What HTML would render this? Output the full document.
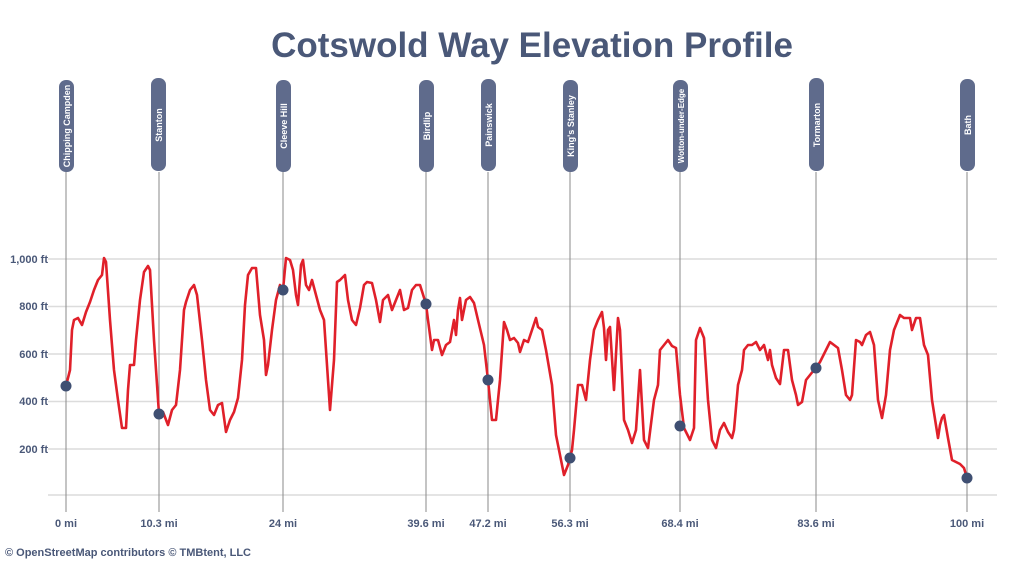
<!DOCTYPE html>
<html><head><meta charset="utf-8"><style>
html,body{margin:0;padding:0;background:#fff;}
svg{display:block;font-family:"Liberation Sans",Arial,sans-serif;}
</style></head><body>
<svg width="1024" height="565" viewBox="0 0 1024 565" xmlns="http://www.w3.org/2000/svg">
<text x="532" y="57" text-anchor="middle" font-size="35" font-weight="bold" fill="#4a5878">Cotswold Way Elevation Profile</text>
<g stroke="#dcdcdc" stroke-width="1.5">
<line x1="48" y1="259" x2="997" y2="259"/>
<line x1="48" y1="306.5" x2="997" y2="306.5"/>
<line x1="48" y1="354" x2="997" y2="354"/>
<line x1="48" y1="401.5" x2="997" y2="401.5"/>
<line x1="48" y1="449" x2="997" y2="449"/>
<line x1="48" y1="495" x2="997" y2="495"/>
</g>
<g font-size="11" font-weight="bold" fill="#4a5878" text-anchor="end">
<text x="48" y="263">1,000 ft</text>
<text x="48" y="310">800 ft</text>
<text x="48" y="358">600 ft</text>
<text x="48" y="405">400 ft</text>
<text x="48" y="453">200 ft</text>
</g>
<g stroke="#8a8a8a" stroke-width="1">
<line x1="66" y1="172" x2="66" y2="512"/>
<line x1="159" y1="172" x2="159" y2="512"/>
<line x1="283" y1="172" x2="283" y2="512"/>
<line x1="426" y1="172" x2="426" y2="512"/>
<line x1="488" y1="172" x2="488" y2="512"/>
<line x1="570" y1="172" x2="570" y2="512"/>
<line x1="680" y1="172" x2="680" y2="512"/>
<line x1="816" y1="172" x2="816" y2="512"/>
<line x1="967" y1="172" x2="967" y2="512"/>
</g>
<g fill="#5f6b8c">
<rect x="59" y="80" width="15" height="92" rx="7"/>
<rect x="151" y="78" width="15" height="93" rx="7"/>
<rect x="276" y="80" width="15" height="92" rx="7"/>
<rect x="419" y="80" width="15" height="92" rx="7"/>
<rect x="481" y="79" width="15" height="92" rx="7"/>
<rect x="563" y="80" width="15" height="92" rx="7"/>
<rect x="673" y="80" width="15" height="92" rx="7"/>
<rect x="809" y="78" width="15" height="93" rx="7"/>
<rect x="960" y="79" width="15" height="92" rx="7"/>
</g>
<g font-size="9" font-weight="bold" fill="#fff" text-anchor="middle">
<text transform="translate(70,126) rotate(-90)">Chipping Campden</text>
<text transform="translate(162,125) rotate(-90)">Stanton</text>
<text transform="translate(287,126) rotate(-90)">Cleeve Hill</text>
<text transform="translate(430,126) rotate(-90)">Birdlip</text>
<text transform="translate(492,125) rotate(-90)">Painswick</text>
<text transform="translate(574,126) rotate(-90)">King's Stanley</text>
<text transform="translate(684,126) rotate(-90)" font-size="8">Wotton-under-Edge</text>
<text transform="translate(820,125) rotate(-90)">Tormarton</text>
<text transform="translate(971,125) rotate(-90)">Bath</text>
</g>
<polyline fill="none" stroke="#e0202a" stroke-width="2.6" stroke-linejoin="round" points="66,386 70,370 72,330 74,320 78,318 82,325 86,312 90,302 94,290 98,280 102,275 104,258 106,262 110,320 114,370 118,400 122,428 126,428 128,390 130,365 134,365 136,340 140,300 144,272 148,266 150,270 154,340 159,414 163,412 168,425 172,410 176,405 180,370 184,310 186,302 190,290 194,285 197,295 202,340 206,380 210,410 214,415 218,405 222,403 226,432 230,420 234,412 238,398 242,360 245,305 248,275 252,268 256,268 260,315 264,340 266,375 268,365 272,330 276,300 280,285 283,290 286,258 290,260 293,270 296,295 298,305 301,265 303,260 306,285 309,290 312,280 316,295 320,310 324,320 330,410 334,360 337,282 340,280 345,275 348,300 352,320 356,325 360,308 364,285 367,282 372,283 376,300 380,322 383,300 388,295 392,310 396,300 400,290 404,310 408,308 412,290 416,285 420,285 426,304 428,320 432,350 434,340 438,340 442,355 446,345 450,342 454,320 456,335 458,310 460,298 462,320 466,300 470,297 474,303 478,320 484,345 488,380 492,420 496,420 500,380 504,322 507,330 510,340 514,338 518,343 520,352 524,340 528,342 532,330 536,318 538,327 542,330 546,350 552,385 556,435 560,455 564,475 568,465 572,450 574,430 578,385 582,385 586,400 590,360 594,330 598,320 602,312 604,328 606,360 608,330 610,327 614,390 618,318 620,330 624,420 628,430 632,443 636,430 640,370 644,440 648,448 654,400 658,385 660,350 664,345 668,340 672,346 676,348 680,395 684,428 690,440 694,428 696,340 700,328 704,338 708,400 712,440 716,448 720,430 724,423 728,432 732,438 734,430 738,385 742,370 744,350 748,345 752,345 756,342 760,350 764,345 768,360 770,350 772,365 776,378 780,384 784,350 788,350 792,380 796,395 798,405 802,402 806,380 810,375 814,370 816,368 820,362 826,350 830,342 834,345 838,348 842,370 846,395 850,400 852,395 856,340 860,342 862,345 866,335 870,332 874,345 878,400 882,418 886,395 890,350 894,330 900,315 904,318 910,318 912,330 916,318 920,318 924,345 928,355 932,400 938,438 940,425 942,418 944,415 948,438 952,460 956,462 960,464 964,468 967,478"/>
<g fill="#3f4f72">
<circle cx="66" cy="386" r="5.5"/>
<circle cx="159" cy="414" r="5.5"/>
<circle cx="283" cy="290" r="5.5"/>
<circle cx="426" cy="304" r="5.5"/>
<circle cx="488" cy="380" r="5.5"/>
<circle cx="570" cy="458" r="5.5"/>
<circle cx="680" cy="426" r="5.5"/>
<circle cx="816" cy="368" r="5.5"/>
<circle cx="967" cy="478" r="5.5"/>
</g>
<g font-size="11" font-weight="bold" fill="#4a5878" text-anchor="middle">
<text x="66" y="527">0 mi</text>
<text x="159" y="527">10.3 mi</text>
<text x="283" y="527">24 mi</text>
<text x="426" y="527">39.6 mi</text>
<text x="488" y="527">47.2 mi</text>
<text x="570" y="527">56.3 mi</text>
<text x="680" y="527">68.4 mi</text>
<text x="816" y="527">83.6 mi</text>
<text x="967" y="527">100 mi</text>
</g>
<text x="5" y="556" font-size="11" font-weight="bold" fill="#4a5878">© OpenStreetMap contributors  © TMBtent, LLC</text>
</svg>
</body></html>
